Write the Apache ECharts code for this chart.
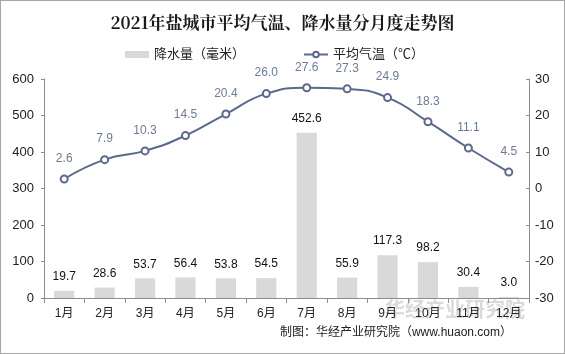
<!DOCTYPE html>
<html>
<head>
<meta charset="utf-8">
<script src="https://cdn.jsdelivr.net/npm/echarts@6/dist/echarts.min.js"></script>
<style>
  html, body { margin: 0; padding: 0; background: #fff; }
  #main { width: 563px; height: 352px; border: 1px solid #a6a6a6; }
</style>
</head>
<body>
<div id="main"></div>
<script>
  var months = ['1月', '2月', '3月', '4月', '5月', '6月', '7月', '8月', '9月', '10月', '11月', '12月'];
  var rain = [19.7, 28.6, 53.7, 56.4, 53.8, 54.5, 452.6, 55.9, 117.3, 98.2, 30.4, 3.0];
  var temp = [2.6, 7.9, 10.3, 14.5, 20.4, 26.0, 27.6, 27.3, 24.9, 18.3, 11.1, 4.5];

  var chart = echarts.init(document.getElementById('main'));
  var font = 'Arial, "Liberation Sans", "Noto Sans CJK SC", sans-serif';

  chart.setOption({
    animation: false,
    textStyle: { fontFamily: font },
    title: {
      text: '2021年盐城市平均气温、降水量分月度走势图',
      left: 'center',
      top: 8,
      textStyle: { fontSize: 17, fontWeight: 'bold', color: '#1a1a1a', fontFamily: '"Noto Serif CJK SC", "DejaVu Serif", "Noto Sans CJK SC", serif' }
    },
    legend: {
      top: 42,
      left: 119,
      itemGap: 58,
      itemWidth: 24,
      itemHeight: 7,
      textStyle: { fontSize: 13, color: '#222' },
      data: [
        { name: '降水量（毫米）', icon: 'rect' },
        { name: '平均气温（℃）' }
      ]
    },
    grid: { left: 43, right: 35, top: 78, bottom: 55 },
    xAxis: {
      type: 'category',
      data: months,
      axisLine: { lineStyle: { color: '#8c8c8c' } },
      axisTick: { show: true, alignWithLabel: false, lineStyle: { color: '#8c8c8c' } },
      axisLabel: { color: '#222', fontSize: 12, margin: 10 }
    },
    yAxis: [
      {
        type: 'value', min: 0, max: 600, interval: 100,
        axisLine: { show: true, lineStyle: { color: '#8c8c8c' } },
        axisTick: { show: true, length: 3, lineStyle: { color: '#8c8c8c' } },
        axisLabel: { color: '#222', fontSize: 13, margin: 10 },
        splitLine: { show: false }
      },
      {
        type: 'value', min: -30, max: 30, interval: 10,
        axisLine: { show: true, lineStyle: { color: '#8c8c8c' } },
        axisTick: { show: true, inside: true, length: 3, lineStyle: { color: '#8c8c8c' } },
        axisLabel: { color: '#222', fontSize: 13, margin: 6 },
        splitLine: { show: false }
      }
    ],
    series: [
      {
        name: '降水量（毫米）',
        type: 'bar',
        data: rain,
        barWidth: '50%',
        itemStyle: { color: '#d9d9d9' },
        label: {
          show: true, position: 'top', distance: 8, color: '#111', fontSize: 12,
          formatter: function (p) { return p.value.toFixed(1); }
        }
      },
      {
        name: '平均气温（℃）',
        type: 'line',
        yAxisIndex: 1,
        data: temp,
        smooth: true,
        symbol: 'emptyCircle',
        symbolSize: 7,
        lineStyle: { color: '#5b6a8c', width: 2 },
        itemStyle: { color: '#5b6a8c', borderWidth: 1.2 },
        label: {
          show: true, position: 'top', distance: 10, color: '#6b7a9c', fontSize: 12,
          formatter: function (p) { return p.value.toFixed(1); }
        }
      }
    ],
    graphic: [
      {
        type: 'text', right: 52, top: 326,
        style: { text: '制图：华经产业研究院（www.huaon.com）', fill: '#222', fontSize: 12, fontFamily: font }
      },
      {
        type: 'text', left: 384, top: 300,
        style: { text: '华经产业研究院', fill: 'rgba(150,150,150,0.35)', fontSize: 20, fontWeight: 'bold', fontFamily: font }
      }
    ]
  });
</script>
</body>
</html>
